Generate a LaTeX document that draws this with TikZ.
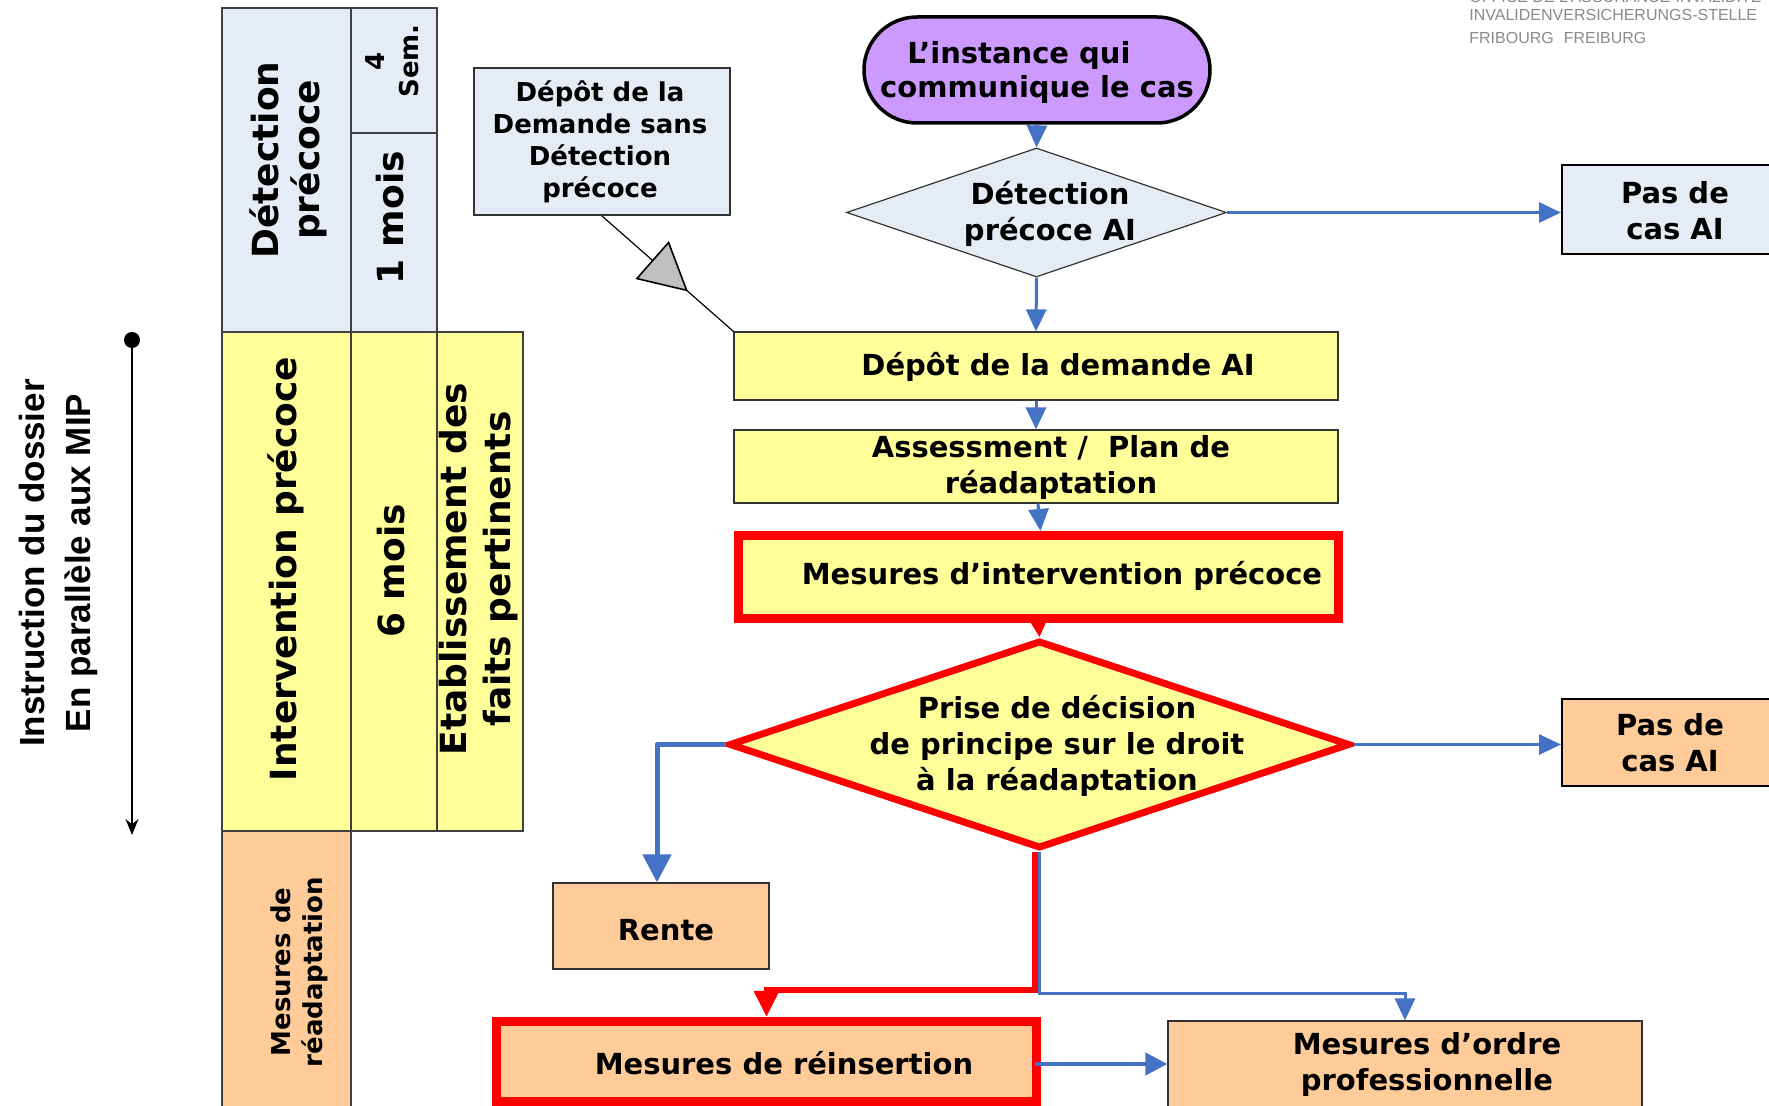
\documentclass[tikz,border=0pt]{standalone}
\usepackage{fontspec}
\setmainfont{DejaVu Sans}
\newfontfamily\leftfont{Liberation Sans}
\newfontfamily\logofont{Liberation Sans}
\usetikzlibrary{arrows.meta,shapes.geometric,calc}
\definecolor{lblue}{HTML}{E6ECF6}
\definecolor{lyel}{HTML}{FFFF99}
\definecolor{peach}{HTML}{FFCC99}
\definecolor{purp}{HTML}{CC99FF}
\definecolor{arrblue}{HTML}{4472C4}
\definecolor{logogray}{HTML}{8A8A8A}
\definecolor{trigray}{HTML}{C0C0C0}
\begin{document}
\begin{tikzpicture}[x=0.5pt,y=-0.5pt,
  colbox/.style={draw=black!75, line width=0.7pt, inner sep=0pt},
  vtxt/.style={rotate=90, align=center, font=\bfseries\fontsize{18pt}{20.5pt}\selectfont, inner sep=0pt},
  vsmall/.style={rotate=90, align=center, font=\bfseries\fontsize{13pt}{16pt}\selectfont, inner sep=0pt},
  ftxt/.style={align=center, font=\bfseries\fontsize{14.5pt}{18pt}\selectfont, inner sep=0pt},
  fbox/.style={draw=black!80, line width=0.6pt, inner sep=0pt},
  pbox/.style={draw=black, line width=1pt, inner sep=0pt},
  redbox/.style={draw=red, line width=4.5pt, inner sep=0pt},
  barrow/.style={draw=arrblue, line width=1.5pt, -{Triangle[length=11pt,width=10pt]}},
  logo/.style={font=\logofont\fontsize{8pt}{10pt}\selectfont, text=logogray, inner sep=0pt, anchor=base west}
]
\useasboundingbox (0,0) rectangle (1769,1106);
\clip (0,0) rectangle (1769,1106);

% ---------- logo ----------
\node[logo] (lg1) at (1469,2.5) {OFFICE DE L’ASSURANCE-INVALIDITÉ};
\node[logo] (lg2) at (1469,20.7) {INVALIDENVERSICHERUNGS-STELLE};
\node[logo] (lg3) at (1469,43.3) {FRIBOURG\hspace{0.62em}FREIBURG};

% ---------- left time axis ----------
\node[circle, fill=black, inner sep=0pt, minimum size=8pt] (ldot) at (132,340) {};
\coordinate (lend) at (132,835);
\draw[line width=0.9pt, -{Stealth[length=8pt,width=6.5pt]}] (ldot.center) -- (lend);
\node[rotate=90, align=center, inner sep=0pt, font=\leftfont\bfseries\fontsize{17.5pt}{23pt}\selectfont] (instr) at (58,563)
  {Instruction du dossier\\En parallèle aux MIP};

% ---------- phase columns ----------
\node[colbox, fill=lblue, minimum width=64.5pt, minimum height=162pt] (c1top) at (286.5,170) {};
\node[colbox, fill=lblue, minimum width=43pt, minimum height=62.5pt] (c2sem) at (394,70.5) {};
\node[colbox, fill=lblue, minimum width=43pt, minimum height=99.5pt] (c2mois) at (394,232.5) {};
\node[colbox, fill=lyel, minimum width=64.5pt, minimum height=249.5pt] (c1yel) at (286.5,581.5) {};
\node[colbox, fill=lyel, minimum width=43pt, minimum height=249.5pt] (c2yel) at (394,581.5) {};
\node[colbox, fill=lyel, minimum width=43pt, minimum height=249.5pt] (c3yel) at (480,581.5) {};
\node[colbox, fill=peach, minimum width=64.5pt, minimum height=142pt] (c1pe) at (286.5,973) {};

\node[vtxt] (tdet) at (288,160) {Détection\\précoce};
\node[vsmall, font=\bfseries\fontsize{13pt}{17pt}\selectfont] (tsem) at (392,61) {4\\Sem.};
\node[vtxt] (t1m) at (390,218) {1 mois};
\node[vtxt] (tint) at (286,569) {Intervention précoce};
\node[vtxt] (t6m) at (391,571) {6 mois};
\node[vtxt, font=\bfseries\fontsize{18pt}{22pt}\selectfont] (teta) at (479,569) {Etablissement des\\faits pertinents};
\node[vsmall] (tmr) at (299,972) {Mesures de\\réadaptation};

% ---------- flow shapes ----------
\node[draw=black, line width=1.75pt, fill=purp, rounded corners=26.5pt, minimum width=173pt, minimum height=53pt, inner sep=0pt] (purpn) at (1037,70) {};
\node[ftxt, font=\bfseries\fontsize{14.5pt}{17pt}\selectfont] (tpurp) at (1037,73) {L’instance qui\rule{18pt}{0pt}\\communique le cas};

\node[diamond, draw=black!80, line width=0.6pt, fill=lblue, minimum width=190pt, minimum height=64.5pt, inner sep=0pt] (d1) at (1036.5,212.5) {};
\node[ftxt] (td1) at (1050,214) {Détection\\précoce AI};

\node[pbox, fill=lblue, minimum width=119pt, minimum height=44.5pt] (pas1) at (1681,209.5) {};
\node[ftxt] (tpas1) at (1675,210.5) {Pas de\\cas AI};

\node[fbox, fill=lblue, line width=1pt, minimum width=128pt, minimum height=73.5pt] (dsd) at (602,141.5) {};
\node[ftxt, font=\bfseries\fontsize{13pt}{16pt}\selectfont] (tdsd) at (600,142) {Dépôt de la\\Demande sans\\Détection\\précoce};

\node[fbox, fill=lyel, minimum width=302pt, minimum height=34pt] (dep) at (1036,366) {};
\node[ftxt] (tdep) at (1058,367) {Dépôt de la demande AI};

\node[fbox, fill=lyel, minimum width=302pt, minimum height=36.5pt] (ass) at (1036,466.5) {};
\node[ftxt] (tass) at (1051,468) {Assessment /\ \ Plan de\\réadaptation};

\node[redbox, fill=lyel, minimum width=300pt, minimum height=41.5pt] (mip) at (1038.5,577) {};
\node[ftxt] (tmip) at (1062,576) {Mesures d’intervention précoce};

\node[diamond, draw=red, line width=3.5pt, fill=lyel, minimum width=310.5pt, minimum height=104pt, inner sep=0pt] (d2) at (1039.5,744.5) {};
\node[ftxt] (td2) at (1057,745.5) {Prise de décision\\de principe sur le droit\\à la réadaptation};

\node[fbox, fill=peach, minimum width=108pt, minimum height=43pt] (rente) at (661,926) {};
\node[ftxt] (trente) at (666,930) {Rente};

\node[pbox, fill=peach, minimum width=119pt, minimum height=43.5pt] (pas2) at (1681,742.5) {};
\node[ftxt] (tpas2) at (1670,743) {Pas de\\cas AI};

\node[redbox, fill=peach, minimum width=270pt, minimum height=40pt] (reins) at (766.5,1061.5) {};
\node[ftxt] (treins) at (784,1063) {Mesures de réinsertion};

\node[fbox, fill=peach, minimum width=237pt, minimum height=49.5pt] (ordre) at (1405,1070.5) {};
\node[ftxt] (tordre) at (1427,1064.5) {Mesures d’ordre\\professionnelle};

% ---------- connectors ----------
\draw[barrow] (purpn.south) -- (d1.north);
\draw[barrow] (d1.east) -- (d1.east -| pas1.west);
\draw[barrow] (d1.south) -- (dep.north);
\draw[barrow] (dep.south) -- (ass.north);
\draw[barrow] ([xshift=1pt]ass.south) -- ([xshift=1pt]mip.north);
\draw[draw=red, line width=1.5pt, -{Triangle[length=8pt,width=8pt]}] (mip.south) -- (d2.north);
\draw[draw=arrblue, line width=2.5pt, line join=round, -{Triangle[length=14pt,width=14pt]}]
  (d2.west) -| ([xshift=-2pt]rente.north);
\draw[barrow] (d2.east) -- (d2.east -| pas2.west);
\draw[draw=red, line width=3pt, -{Triangle[length=13pt,width=12pt]}]
  ([xshift=-2.5pt]d2.south) -- ++(0,138) -| (reins.north);
\draw[barrow] (d2.south) -- ++(0,142) -| (ordre.north);
\draw[draw=arrblue, line width=2pt, -{Triangle[length=11pt,width=11pt]}]
  ([xshift=-3pt,yshift=-1.25pt]reins.east) -- ([yshift=-1.25pt]reins.east -| ordre.west);

% link with marker triangle
\draw[line width=0.6pt] (dsd.south) -- coordinate[pos=0.386] (tb) coordinate[pos=0.644] (tt) (dep.north west);
\filldraw[fill=trigray, draw=black, line width=0.8pt] (tt) -- ($(tb)!12pt!90:(tt)$) -- ($(tb)!12pt!-90:(tt)$) -- cycle;
\end{tikzpicture}
\end{document}
